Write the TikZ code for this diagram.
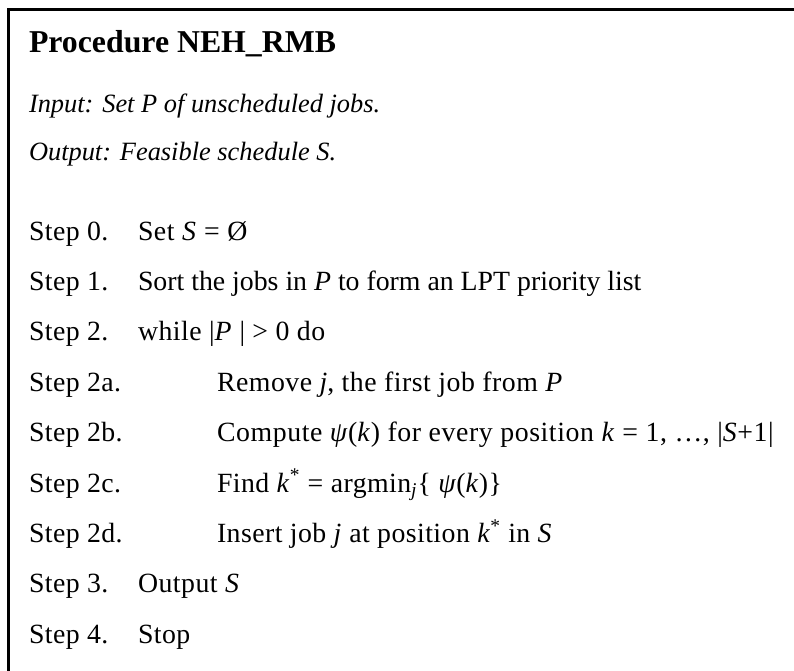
\documentclass[tikz,border=0pt]{standalone}
\usepackage{fontspec}
\setmainfont{Liberation Serif}
\tikzset{
  lbl/.style={anchor=base west, inner sep=0pt, outer sep=0pt},
  headtxt/.style={lbl, font=\fontsize{23.85}{28}\selectfont\bfseries},
  spectxt/.style={lbl, font=\fontsize{19.8}{24}\selectfont\itshape},
  steptxt/.style={lbl, font=\fontsize{20.85}{25}\selectfont\addfontfeature{LetterSpace=#1}},
  steptxt/.default=0,
  frame/.style={line width=1.7pt, line join=miter}
}
\begin{document}
\begin{tikzpicture}[x=0.75pt, y=-0.75pt]
\useasboundingbox (0,0) rectangle (794,671);
\draw[frame] (796,9.5) -- (8.5,9.5) -- (8.5,673);
\node[headtxt] (title) at (29,52) {Procedure NEH\_RMB};
\node[spectxt] (input) at (29,113) {Input: Set P of unscheduled jobs.};
\node[spectxt] (output) at (29,160) {Output: Feasible schedule S.};
% main steps
\node[steptxt=1.5] (s0) at (29,240) {Step 0.};
\node[steptxt=2] (t0) at (138,240) {Set \textit{S} = Ø};
\node[steptxt=1.5] (s1) at (29,290.4) {Step 1.};
\node[steptxt] (t1) at (138,290.4) {Sort the jobs in \textit{P} to form an LPT priority list};
\node[steptxt=1.5] (s2) at (29,340.8) {Step 2.};
\node[steptxt=1.7] (t2) at (138,340.8) {while |\textit{P} | > 0 do};
% inner steps
\node[steptxt=1.5] (s2a) at (29,391.2) {Step 2a.};
\node[steptxt=1.8] (t2a) at (217,391.2) {Remove \textit{j}, the first job from \textit{P}};
\node[steptxt=1.5] (s2b) at (29,441.6) {Step 2b.};
\node[steptxt=2.1] (t2b) at (217,441.6) {Compute \textit{ψ}(\textit{k}) for every position \textit{k} = 1, …, |\textit{S}+1|};
\node[steptxt=1.5] (s2c) at (29,492) {Step 2c.};
\node[steptxt=1.6] (t2c) at (217,492) {Find \textit{k}\textsuperscript{*} = argmin\textsubscript{\textit{j}}\{ \textit{ψ}(\textit{k})\}};
\node[steptxt=1.5] (s2d) at (29,542.4) {Step 2d.};
\node[steptxt=1.6] (t2d) at (217,542.4) {Insert job \textit{j} at position \textit{k}\textsuperscript{*} in \textit{S}};
\node[steptxt=1.5] (s3) at (29,592.8) {Step 3.};
\node[steptxt=1.8] (t3) at (138,592.8) {Output \textit{S}};
\node[steptxt=1.5] (s4) at (29,643.2) {Step 4.};
\node[steptxt=1.5] (t4) at (138,643.2) {Stop};
\end{tikzpicture}
\end{document}
